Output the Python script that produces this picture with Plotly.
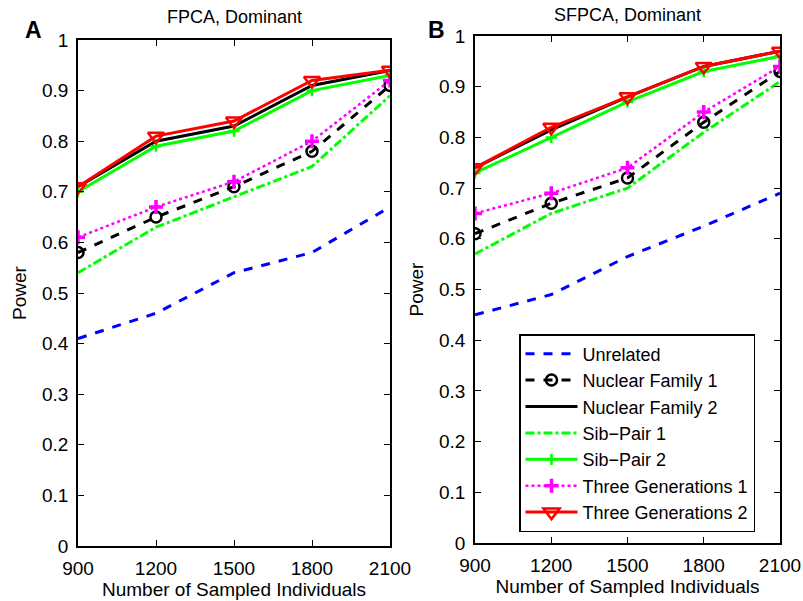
import plotly.graph_objects as go

# Sample sizes on the x axis
sample_sizes = [900, 1200, 1500, 1800, 2100]

# Power under FPCA, dominant model
fpca_unrelated = [0.41, 0.46, 0.54, 0.58, 0.67]
fpca_nuclear1 = [0.58, 0.65, 0.71, 0.78, 0.91]
fpca_nuclear2 = [0.71, 0.80, 0.83, 0.91, 0.94]
fpca_sibpair1 = [0.54, 0.63, 0.69, 0.75, 0.89]
fpca_sibpair2 = [0.70, 0.79, 0.82, 0.90, 0.93]
fpca_threegen1 = [0.61, 0.67, 0.72, 0.80, 0.92]
fpca_threegen2 = [0.71, 0.81, 0.84, 0.92, 0.94]

# Power under SFPCA, dominant model
sfpca_unrelated = [0.45, 0.49, 0.565, 0.625, 0.69]
sfpca_nuclear1 = [0.61, 0.67, 0.72, 0.83, 0.93]
sfpca_nuclear2 = [0.74, 0.815, 0.88, 0.94, 0.97]
sfpca_sibpair1 = [0.57, 0.65, 0.70, 0.81, 0.91]
sfpca_sibpair2 = [0.73, 0.80, 0.87, 0.93, 0.96]
sfpca_threegen1 = [0.65, 0.69, 0.74, 0.85, 0.94]
sfpca_threegen2 = [0.74, 0.82, 0.88, 0.94, 0.97]

series_names = ["Unrelated", "Nuclear Family 1", "Nuclear Family 2",
                "Sib\u2212Pair 1", "Sib\u2212Pair 2",
                "Three Generations 1", "Three Generations 2"]

y_ticks = [0, 0.1, 0.2, 0.3, 0.4, 0.5, 0.6, 0.7, 0.8, 0.9, 1]
y_ticktext = ["0", "0.1", "0.2", "0.3", "0.4", "0.5", "0.6", "0.7", "0.8", "0.9", "1"]

BLUE = "#0000ff"
GREEN = "#00ff00"
MAGENTA = "#ff00ff"
RED = "#ff0000"
BLACK = "#000000"

styles = [
    dict(line=dict(color=BLUE, width=3, dash="dash"), mode="lines"),
    dict(line=dict(color=BLACK, width=3, dash="dash"), mode="lines+markers",
         marker=dict(symbol="circle-open", size=11, color=BLACK, line=dict(width=2.5, color=BLACK))),
    dict(line=dict(color=BLACK, width=3), mode="lines"),
    dict(line=dict(color=GREEN, width=3, dash="dashdot"), mode="lines"),
    dict(line=dict(color=GREEN, width=3), mode="lines+markers",
         marker=dict(symbol="cross-thin-open", size=8, color=GREEN, line=dict(width=2.5, color=GREEN))),
    dict(line=dict(color=MAGENTA, width=2.5, dash="dot"), mode="lines+markers",
         marker=dict(symbol="cross-thin-open", size=10, color=MAGENTA, line=dict(width=3.5, color=MAGENTA))),
    dict(line=dict(color=RED, width=3), mode="lines+markers",
         marker=dict(symbol="triangle-down-open", size=14, color=RED, line=dict(width=2.5, color=RED))),
]

fpca = [fpca_unrelated, fpca_nuclear1, fpca_nuclear2, fpca_sibpair1,
        fpca_sibpair2, fpca_threegen1, fpca_threegen2]
sfpca = [sfpca_unrelated, sfpca_nuclear1, sfpca_nuclear2, sfpca_sibpair1,
         sfpca_sibpair2, sfpca_threegen1, sfpca_threegen2]

fig = go.Figure()
for name, vals, st in zip(series_names, fpca, styles):
    fig.add_trace(go.Scatter(x=sample_sizes, y=vals, name=name, xaxis="x", yaxis="y",
                             showlegend=False, **st))
for name, vals, st in zip(series_names, sfpca, styles):
    fig.add_trace(go.Scatter(x=sample_sizes, y=vals, name=name, xaxis="x2", yaxis="y2",
                             showlegend=True, **st))

FONT = "Liberation Sans, Arial, sans-serif"
FS = 19
axis_common = dict(showgrid=False, zeroline=False, showline=True, linecolor=BLACK,
                   linewidth=1.5, mirror="ticks", ticks="inside", ticklen=6,
                   tickcolor=BLACK, tickwidth=1, automargin=False,
                   tickfont=dict(size=FS, color=BLACK, family=FONT))
x_common = dict(range=[900, 2100], tickvals=sample_sizes, ticklabelstandoff=4,
                title=dict(text="Number of Sampled Individuals", font=dict(size=FS), standoff=4),
                **axis_common)
y_common = dict(range=[0, 1], tickvals=y_ticks, ticktext=y_ticktext, ticklabelstandoff=4,
                title=dict(text="Power", font=dict(size=FS), standoff=10),
                **axis_common)

fig.update_layout(
    width=803, height=601,
    margin=dict(l=0, r=0, t=0, b=0),
    paper_bgcolor="white", plot_bgcolor="white",
    font=dict(family=FONT, color=BLACK, size=FS),
    xaxis=dict(domain=[78 / 803, 390 / 803], anchor="y", **x_common),
    yaxis=dict(domain=[55 / 601, 561 / 601], anchor="x", **y_common),
    xaxis2=dict(domain=[475 / 803, 780 / 803], anchor="y2", **x_common),
    yaxis2=dict(domain=[58 / 601, 565 / 601], anchor="x2", **y_common),
    legend=dict(x=519 / 803, y=(601 - 334) / 601, xanchor="left", yanchor="top",
                bgcolor="white", bordercolor=BLACK, borderwidth=1.5,
                font=dict(size=18, color=BLACK, family=FONT), itemwidth=52,
                tracegroupgap=0),
    annotations=[
        dict(text="FPCA, Dominant", x=234 / 803, y=(601 - 17) / 601, xref="paper", yref="paper",
             showarrow=False, font=dict(size=18), xanchor="center", yanchor="middle"),
        dict(text="SFPCA, Dominant", x=627 / 803, y=(601 - 15) / 601, xref="paper", yref="paper",
             showarrow=False, font=dict(size=18), xanchor="center", yanchor="middle"),
        dict(text="<b>A</b>", x=33 / 803, y=(601 - 30) / 601, xref="paper", yref="paper",
             showarrow=False, font=dict(size=23), xanchor="center", yanchor="middle"),
        dict(text="<b>B</b>", x=437 / 803, y=(601 - 30) / 601, xref="paper", yref="paper",
             showarrow=False, font=dict(size=23), xanchor="center", yanchor="middle"),
    ],
)

fig.write_html("out.html")
